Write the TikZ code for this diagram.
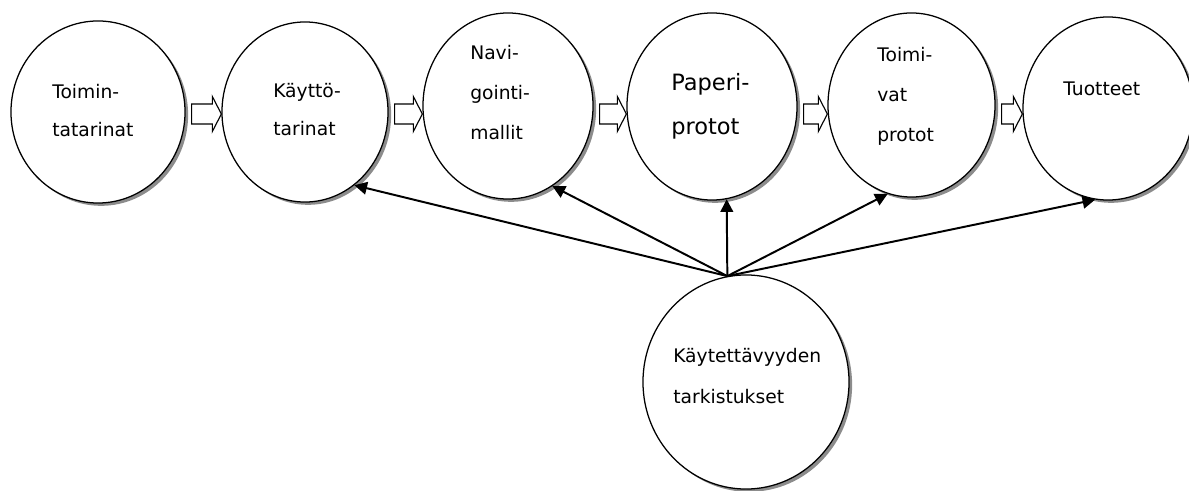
\documentclass[tikz,border=0pt]{standalone}
\usepackage{fontspec}
\setmainfont{DejaVu Sans}
\usetikzlibrary{calc,shapes.geometric,arrows.meta}
\tikzset{
	circ/.style={ellipse, draw, line width=0.9pt, fill=white, inner sep=0pt,
		preaction={fill=black!45, transform canvas={shift={(2.2pt,-2pt)}}}},
	lbl/.style={anchor=base west, align=left, inner sep=0pt, font=\fontsize{13.3}{27.5}\selectfont},
	conn/.style={line width=1.4pt, -{Triangle[length=9pt,width=9pt]}}
}
\def\blockarrow#1#2{%
	\coordinate (s) at ($(#1.east |- 0,114)+(6,0)$);
	\coordinate (t) at (#2.west |- 0,114);
	\draw[line width=0.8pt, fill=white] ($(s)+(0,-10)$) -- ($(t)+(-9,-10)$) -- ($(t)+(-9,-17.5)$) -- (t) -- ($(t)+(-9,17.5)$) -- ($(t)+(-9,10)$) -- ($(s)+(0,10)$) -- cycle;}

\begin{document}
\begin{tikzpicture}[x=0.025cm, y=-0.025cm]
			%%%%% START %%%%%
			\useasboundingbox (0,0) rectangle (1189,491);
			
			\node[circ, minimum width=4.35cm, minimum height=4.55cm] (c1) at (98,112) {};
			\node[circ, minimum width=4.15cm, minimum height=4.5cm] (c2) at (305,112) {};
			\node[circ, minimum width=4.25cm, minimum height=4.65cm] (c3) at (508,106) {};
			\node[circ, minimum width=4.25cm, minimum height=4.675cm] (c4) at (712,106.5) {};
			\node[circ, minimum width=4.175cm, minimum height=4.6cm] (c5) at (911.5,105) {};
			\node[circ, minimum width=4.25cm, minimum height=4.575cm] (c6) at (1108,108.5) {};
			\node[circ, minimum width=5.15cm, minimum height=5.35cm] (cb) at (746,382) {};
			
			% base = last line
			\node[lbl] (t1) at (52,137) {Toimin-\\tatarinat};
			\node[lbl] (t2) at (273,136) {Käyttö-\\tarinat};
			\node[lbl, font=\fontsize{13.3}{28.5}\selectfont] (t3) at (470,140) {Navi-\\gointi-\\mallit};
			\node[lbl, font=\fontsize{16}{32}\selectfont] (t4) at (671,135) {Paperi-\\protot};
			\node[lbl, font=\fontsize{13.3}{28.5}\selectfont] (t5) at (877,142) {Toimi-\\vat\\protot};
			\node[lbl] (t6) at (1063,96) {Tuotteet};
			\node[lbl, font=\fontsize{13.3}{28.5}\selectfont] (tb) at (673,403) {Käytettävyyden\\tarkistukset};
			
			\blockarrow{c1}{c2}
			\blockarrow{c2}{c3}
			\blockarrow{c3}{c4}
			\blockarrow{c4}{c5}
			\blockarrow{c5}{c6}
			
			\draw[conn] (cb.100.8) -- (c2.-56.5);
			\draw[conn] (cb.100.8) -- (c3.-61);
			\draw[conn] (cb.100.8) -- (c4.-81);
			\draw[conn] (cb.100.8) -- (c5.-105.8);
			\draw[conn] (cb.100.8) -- (c6.-98.4);
			
			%%%%% END %%%%%
\end{tikzpicture}
\end{document}
